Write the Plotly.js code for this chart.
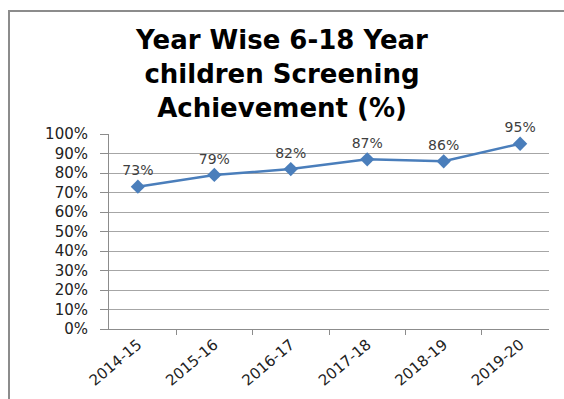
<!DOCTYPE html>
<html>
<head>
<meta charset="utf-8">
<script src="https://cdn.plot.ly/plotly-3.0.1.min.js"></script>
<style>
  html, body { margin: 0; padding: 0; background: #fff; }
  #wrap { position: relative; width: 564px; height: 399px; overflow: hidden; }
  #frame { position: absolute; left: 8px; top: 10px; width: 600px; height: 420px;
           border-left: 2px solid #8c8c8c; border-top: 2px solid #8c8c8c; }
  #chart { position: absolute; left: 0; top: 0; width: 564px; height: 399px; }
</style>
</head>
<body>
<div id="wrap">
  <div id="frame"></div>
  <div id="chart"></div>
</div>
<script>
// Screening achievement per academic year
const years = ['2014-15', '2015-16', '2016-17', '2017-18', '2018-19', '2019-20'];
const achievement = [73, 79, 82, 87, 86, 95];
const yTickValues = [0, 10, 20, 30, 40, 50, 60, 70, 80, 90, 100];
const yTickLabels = yTickValues.map(v => v + '%');

const trace = {
  x: years,
  y: achievement,
  type: 'scatter',
  mode: 'lines+markers+text',
  text: achievement.map(v => v + '%'),
  textposition: 'top center',
  textfont: { family: 'DejaVu Sans', size: 14, color: '#404040' },
  line: { color: '#4a7ebb', width: 2.5 },
  marker: { symbol: 'diamond', size: 11, color: '#4a7ebb' },
  cliponaxis: false,
  hoverinfo: 'skip'
};

const layout = {
  width: 564,
  height: 399,
  margin: { l: 109, r: 15, t: 134, b: 70 },
  paper_bgcolor: 'rgba(0,0,0,0)',
  plot_bgcolor: 'rgba(0,0,0,0)',
  showlegend: false,
  title: {
    text: '<b>Year Wise 6-18 Year<br>children Screening<br>Achievement (%)</b>',
    font: { family: 'DejaVu Sans', size: 26, color: '#000' },
    x: 0.5, xref: 'container', xanchor: 'center',
    y: 0.877, yref: 'container', yanchor: 'top'
  },
  xaxis: {
    type: 'category',
    tickangle: -40,
    tickson: 'boundaries',
    ticks: 'outside',
    ticklen: 5,
    tickcolor: '#8c8c8c',
    showline: true,
    linecolor: '#8c8c8c',
    linewidth: 1,
    showgrid: false,
    tickfont: { family: 'DejaVu Sans', size: 15, color: '#222' },
    fixedrange: true
  },
  yaxis: {
    range: [0, 100],
    tickvals: yTickValues,
    ticktext: yTickLabels,
    ticks: 'outside',
    ticklen: 8,
    tickcolor: '#8c8c8c',
    ticklabelstandoff: 9,
    showline: true,
    linecolor: '#8c8c8c',
    linewidth: 1,
    showgrid: true,
    gridcolor: '#a6a6a6',
    gridwidth: 1,
    zeroline: false,
    tickfont: { family: 'DejaVu Sans', size: 15, color: '#222' },
    fixedrange: true
  }
};

Plotly.newPlot('chart', [trace], layout, { staticPlot: true, displayModeBar: false });
</script>
</body>
</html>
